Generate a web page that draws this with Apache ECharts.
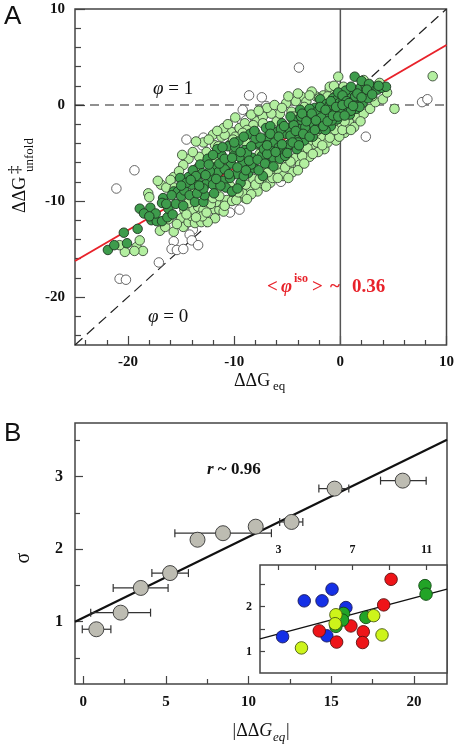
<!DOCTYPE html>
<html><head><meta charset="utf-8">
<script src="https://cdn.jsdelivr.net/npm/echarts@6/dist/echarts.min.js"></script>
<style>html,body{margin:0;padding:0;background:#fff}#c{width:457px;height:749px}</style>
</head><body><div id="c"></div>
<script>
// ---------- Panel A data (ΔΔG_eq, ΔΔG‡_unfold) ----------
const whitePts = [[-3.9,3.9],[-8.6,1.0],[-7.4,0.8],[-9.2,-0.5],[-7.6,-0.5],[-7.0,-0.1],[-10.6,-2.2],[-9.6,-1.9],[-8.6,-1.3],[-8.3,-1.2],[-8.9,-1.6],[-10.1,-1.9],[-14.5,-3.6],[-12.9,-3.4],[-13.0,-4.2],[-19.4,-6.8],[-21.1,-8.7],[-13.5,-6.6],[-5.6,-8.0],[2.4,-3.3],[7.7,0.3],[8.2,0.6],[-10.4,-11.2],[-9.5,-10.9],[-12.5,-12.1],[-13.9,-13.0],[-14.2,-13.5],[-15.7,-14.2],[-15.9,-15.0],[-15.4,-15.1],[-14.8,-15.0],[-14.0,-14.1],[-13.4,-14.6],[-17.1,-16.4],[-20.8,-18.1],[-20.2,-18.2]];
const lightPts = [[-18.1,-9.2],[-18.0,-9.6],[-16.9,-8.3],[-15.7,-7.5],[-16.4,-8.6],[-14.3,-5.6],[-14.8,-6.25],[-13.4,-6.6],[-12.0,-3.1],[-11.8,-4.2],[-11.2,-3.3],[-10.3,-2.8],[-9.5,-2.4],[-9.0,-1.9],[-7.9,-1.7],[-7.3,-1.2],[-6.0,-1.7],[-5.1,0.2],[-3.7,0.9],[-3.2,0.35],[-2.3,0.9],[-1.6,1.0],[-0.2,2.95],[-4.6,-0.7],[-5.7,-0.9],[-6.5,-0.9],[-7.3,-1.9],[-8.2,-2.1],[-8.8,-2.6],[-9.9,-3.3],[-10.9,-3.1],[-10.3,-4.0],[-11.5,-4.3],[-12.6,-4.9],[-13.3,-5.4],[-15.2,-6.9],[-16.0,-7.8],[-6.9,-0.3],[-4.2,0.4],[-2.7,1.4],[-1.0,1.6],[-0.5,0.9],[-12.9,-3.9],[-11.0,-2.4],
[-20.3,-15.3],[-19.2,-14.8],[-18.6,-15.2],[-19.4,-15.2],[-15.7,-13.2],[-15.0,-11.8],[-14.8,-12.7],[-14.3,-12.2],[-14.0,-11.6],[-13.9,-10.9],[-13.4,-10.6],[-13.2,-11.5],[-13.7,-12.3],[-13.1,-12.2],[-12.9,-10.9],[-11.8,-10.9],[-11.4,-10.9],[-11.2,-10.2],[-11.7,-10.1],[-14.7,-10.9],[-14.3,-10.2],[-11.8,-11.8],[-12.5,-12.2],
[-9.0,-9.7],[-7.4,-8.2],[-4.8,-6.25],[-3.2,-5.0],[-1.5,-4.6],[-10.0,-9.4],[-9.5,-8.6],[-8.6,-8.8],[-8.2,-7.7],[-7.8,-9.0],[-7.0,-7.6],[-6.6,-8.1],[-6.2,-7.1],[-5.8,-6.8],[-5.4,-7.4],[-5.0,-5.6],[-4.5,-7.0],[-4.2,-5.5],[-3.8,-6.2],[-3.5,-4.4],[-2.9,-5.4],[-2.5,-4.1],[-2.1,-4.9],[-1.8,-3.4],[-1.2,-3.9],[-0.8,-3.0],[-0.4,-3.7],[0.1,-2.0],[0.4,-2.9],[0.8,-1.8],[1.3,-2.3],[1.6,-1.3],[2.2,-0.9],[2.8,-0.4],[3.3,0.3],[4.0,0.6],[5.1,-0.4],[8.7,3.0],[-10.7,-9.9],[-10.4,-8.4],[-9.2,-9.2],[-8.0,-8.3],[-12.2,-10.3],[-11.0,-11.1],[-7.2,-6.9],[-6.0,-6.2],[-3.0,-3.8],[-0.1,-3.3],[0.6,-2.5],[2.5,1.2],[3.0,0.9],[4.4,1.3],[3.7,2.3],[2.2,2.6],[-17.0,-13.1],[-16.5,-12.7],[-18.9,-14.1],[-20.8,-14.6],
[-12.3,-8.0],[-10.6,-6.2],[-9.3,-5.6],[-7.6,-5.1],[-6.3,-3.2],[-5.0,-4.2],[-3.9,-2.8],[-2.3,-2.8],[-1.6,-0.8],[-0.6,-1.7],[-8.9,-3.9],[-11.7,-5.8],[-13.7,-8.8],[-15.6,-8.6],[-10.0,-4.8],[-7.0,-3.7],[-4.4,-1.2],[-2.0,-0.2],[-1.0,1.9],[0.6,1.2],
[-17.2,-7.9],[-14.9,-5.2],[-13.9,-4.9],[-13.6,-3.8],[-12.4,-3.6],[-11.6,-2.7],[-10.6,-2.0],[-9.9,-1.3],[-9.2,-2.9],[-8.4,-1.0],[-7.7,-0.6],[-6.2,0.0],[-5.5,-0.3],[-4.9,0.9],[-4.0,1.2],[-3.4,-0.2],[-2.9,1.0],[-2.0,0.7],[-1.2,0.9],[-0.6,2.0],[0.3,1.9],[-6.7,-2.4],[-8.0,-2.9],[-10.1,-3.6],
[-16.2,-11.9],[-15.4,-12.4],[-14.5,-11.4],[-13.0,-11.6],[-12.6,-11.2],[-12.0,-9.7],[-11.4,-9.5],[-10.9,-10.5],[-10.2,-10.0],[-9.8,-9.9],[-9.6,-9.1],[-8.9,-8.3],[-8.4,-9.3],[-7.6,-7.7],[-7.0,-8.5],[-6.4,-7.6],[-5.9,-7.6],[-5.2,-6.5],[-4.7,-5.9],[-4.0,-6.8],[-3.6,-5.3],[-3.1,-4.5],[-2.6,-5.1],[-2.2,-3.9],[-1.7,-4.2],[-1.0,-3.4],[-0.5,-2.6],[0.2,-2.6],[1.0,-2.6],[1.9,-1.7],[0.4,-1.7],[-13.6,-11.7],[-11.5,-8.6],[-8.8,-9.8],[-6.8,-7.0],[-4.9,-7.6],[-3.4,-6.1]];
const darkPts = [[-21.9,-15.1],[-21.3,-14.6],[-20.4,-13.3],[-20.1,-14.4],[-18.9,-10.8],[-17.9,-10.7],[-17.8,-12.0],[-17.3,-12.1],[-16.8,-12.1],[-16.3,-11.7],[-16.7,-9.7],[-16.8,-10.2],[-15.7,-9.0],[-15.3,-9.0],[-15.0,-9.5],[-14.7,-8.9],[-14.0,-8.3],[-13.4,-8.0],[-14.2,-9.4],[-13.7,-10.1],[-12.9,-10.1],[-12.8,-9.4],[-12.6,-8.2],[-12.1,-7.6],[-12.0,-8.3],[-14.3,-7.5],[-15.1,-7.6],
[-13.9,-6.8],[-13.2,-6.2],[-12.5,-5.6],[-13.0,-7.1],[-11.8,-6.5],[-11.2,-5.2],[-11.5,-7.0],[-11.0,-7.9],[-10.6,-4.3],[-10.3,-6.1],[-10.8,-8.6],[-10.0,-5.2],[-9.8,-7.2],[-9.6,-3.8],[-9.4,-8.1],[-9.2,-6.0],[-9.0,-4.7],[-8.7,-7.1],[-8.5,-3.0],[-8.3,-5.5],[-8.1,-6.6],[-7.9,-4.1],[-7.6,-4.0],[-7.4,-5.3],[-7.3,-7.4],[-7.0,-2.4],[-6.8,-3.3],[-6.7,-6.1],[-6.5,-4.6],[-6.3,-5.5],[-6.0,-2.8],[-5.9,-3.8],[-5.7,-5.6],[-5.5,-1.9],[-5.3,-4.8],[-5.1,-3.0],[-4.9,-2.4],[-4.8,-4.1],[-4.5,-1.5],[-4.3,-3.4],[-4.1,-4.6],[-3.8,-0.5],[-3.8,-2.5],[-3.6,-1.6],[-3.4,-3.7],[-3.1,-0.9],[-3.0,-2.8],[-2.8,-1.9],[-2.6,-3.3],[-2.4,-0.3],[-2.2,-1.3],[-2.0,-2.5],[-1.9,0.6],[-1.7,-0.7],[-1.5,-1.8],[-1.3,0.1],[-1.1,-1.1],[-0.9,-2.2],[-0.7,0.7],[-0.6,-0.4],[-0.4,0.5],[-0.3,-1.5],[-0.1,0.2],[0.1,-0.8],[0.3,0.4],[0.5,-0.2],[0.7,0.9],[0.9,-1.0],[1.1,0.3],[1.2,1.5],[1.35,2.95],[1.5,-0.4],[1.7,0.8],[1.9,1.8],[2.1,0.2],[2.3,1.2],[2.4,1.9],[2.6,0.7],[2.9,1.5],[3.2,1.9],[3.5,1.6],[3.9,1.8],[4.3,1.9],[2.0,2.5],[2.7,2.2],[0.5,1.5],[-0.2,1.3],
[-12.3,-6.9],[-11.6,-4.6],[-10.9,-6.7],[-10.4,-7.6],[-9.9,-4.4],[-9.5,-5.4],[-9.1,-7.4],[-8.8,-5.0],[-8.4,-6.2],[-8.0,-3.5],[-7.7,-6.8],[-7.2,-4.6],[-6.9,-5.1],[-6.6,-2.2],[-6.2,-3.9],[-5.8,-4.4],[-5.6,-2.5],[-5.2,-5.3],[-4.7,-3.2],[-4.4,-2.1],[-4.0,-3.9],[-3.7,-1.2],[-3.3,-2.3],[-2.9,-0.4],[-2.5,-2.0],[-2.1,-0.6],[-1.8,-1.3],[-1.4,-2.6],[-1.0,0.0],[-0.8,-1.6],[-0.5,-0.9],[0.0,-0.3],[0.2,1.0],[0.6,0.4],[1.0,-0.6],[1.4,0.9],[1.8,-0.2],[-16.2,-10.8],[-15.5,-10.3],[-14.8,-10.5],[-15.8,-11.4],[-13.5,-9.2],[-12.9,-8.7],[-11.9,-9.2],[-11.3,-8.4],[-10.2,-9.0],[-9.7,-8.7],[-13.6,-7.4],[-14.5,-8.1],
[-12.7,-7.3],[-12.4,-6.2],[-12.0,-5.2],[-11.7,-7.7],[-11.4,-6.1],[-11.1,-4.4],[-10.9,-5.6],[-10.5,-7.2],[-10.2,-5.5],[-10.0,-3.9],[-9.7,-6.5],[-9.4,-4.9],[-9.1,-3.3],[-8.9,-6.8],[-8.6,-5.8],[-8.4,-4.3],[-8.1,-2.7],[-7.8,-5.7],[-7.5,-3.4],[-7.1,-6.1],[-6.9,-4.2],[-6.6,-3.0],[-6.3,-6.4],[-6.1,-4.9],[-5.8,-3.3],[-5.5,-4.1],[-5.3,-2.2],[-5.0,-5.0],[-4.7,-1.2],[-4.5,-3.9],[-4.2,-2.7],[-3.9,-4.2],[-3.6,-0.9],[-3.5,-3.0],[-3.2,-1.7],[-2.9,-3.3],[-2.7,-0.9],[-2.4,-2.6],[-2.3,-1.6],[-1.9,-0.2],[-1.6,-2.2],[-1.4,-0.5],[-1.2,-1.7],[-0.9,0.4],[-0.7,-1.1],[-0.4,-0.2],[-0.2,-1.2],[0.2,0.0],[0.4,-1.1],[0.8,0.2],[1.2,-0.1],[1.6,1.2],[2.0,0.8],[2.5,1.6],[3.0,1.1],[3.6,2.0],[1.0,1.9],[-13.3,-8.4],[-14.1,-7.8],[-15.0,-8.4],[-15.9,-9.4],[-16.4,-10.3],[-17.4,-11.3],[-18.5,-11.3],[-19.1,-12.9],[-18.0,-11.6]];
const fitA = [[-25,-16.25],[10,6.25]];
const diagA = [[-25,-25],[10,10]];
const zeroA = [[-25,0],[10,0]];
const vertA = [[0,-25],[0,10]];
const majorA = [-20,-10,0,10];
const minorA = [-24,-22,-18,-16,-14,-12,-8,-6,-4,-2,2,4,6,8];

// ---------- Panel B data ----------
const sigmaX = [0.79,2.26,3.48,5.25,6.91,8.45,10.43,12.6,15.2,19.32];
const sigmaY = [0.895,1.124,1.465,1.67,2.13,2.22,2.31,2.375,2.835,2.945];
const errLo  = [-0.06,0.45,1.81,4.15,null,5.54,null,11.88,14.25,17.98];
const errHi  = [1.67,4.07,5.13,6.36,null,11.38,null,13.28,16.06,20.74];
const fitB = [[-0.5,1.0],[22,3.51]];
const majorBX = [0,5,10,15,20], minorBX = [2.5,7.5,12.5,17.5];
const majorBY = [1,2,3], minorBY = [0.5,1.5,2.5,3.5];
// inset
const insetBlue   = [[3.22,1.33],[4.39,2.13],[5.35,2.13],[5.89,2.39],[6.64,1.98],[5.61,1.35]];
const insetRed    = [[9.08,2.61],[8.68,2.04],[5.2,1.46],[6.14,1.21],[6.91,1.57],[7.58,1.44],[7.54,1.2]];
const insetGreen  = [[10.91,2.47],[10.97,2.28],[6.51,1.85],[6.46,1.7],[6.1,1.56],[7.72,1.76]];
const insetYellow = [[6.1,1.82],[6.06,1.62],[8.14,1.8],[8.59,1.37],[4.24,1.08]];
const fitInset = [[2,1.28],[12.1,2.39]];
const insetXTicks = [3,5,7,9,11], insetXLabels = [3,7,11];
const insetYTicks = [1,1.5,2,2.5], insetYLabels = [1,2];

const SERIF = '"Liberation Serif","Times New Roman",serif';
const SANS = '"Liberation Sans",Arial,sans-serif';
const chart = echarts.init(document.getElementById('c'), null, {renderer:'canvas'});
const lbl = (sz)=>({fontFamily:SERIF,fontWeight:'bold',fontSize:sz,color:'#111'});
const errData = sigmaX.map((x,i)=>[x,sigmaY[i],errLo[i],errHi[i]]).filter(d=>d[2]!==null);
const TC = '#444';

function ax(grid,pos,min,max,ticks,labels,tlen,lsize,margin){
  return {gridIndex:grid,type:'value',position:pos,min,max,offset:0,
    axisLine:{show:false,onZero:false},splitLine:{show:false},
    axisTick:{show:true,inside:true,length:tlen,customValues:ticks,lineStyle:{color:TC,width:1.2}},
    axisLabel: labels ? Object.assign(lbl(lsize),{customValues:labels,margin}) : {show:false}};
}
function sc(name,data,color,border,size,xi,z){
  return {type:'scatter',name,xAxisIndex:xi,yAxisIndex:xi,data,symbolSize:size,z,
    itemStyle:{color,borderColor:border,borderWidth:0.9,opacity:1},emphasis:{disabled:true},silent:true};
}
function ln(data,xi,color,width,type,z){
  return {type:'line',xAxisIndex:xi,yAxisIndex:xi,data,symbol:'none',z,silent:true,
    lineStyle:{color,width,type},animation:false};
}
function tx(x,y,text,font,extra){
  return Object.assign({type:'text',x,y,style:Object.assign({text,font,fill:'#111',verticalAlign:'middle'},extra&&extra.style||{})},extra&&extra.el||{});
}

const option = {
  animation:false,
  grid:[
    {left:75,top:9,width:372,height:336,show:true,borderColor:'#444',borderWidth:1.5,backgroundColor:'transparent'},
    {left:75,top:423,width:372,height:261,show:true,borderColor:'#444',borderWidth:1.5},
    {left:260,top:565,width:187,height:108,show:true,borderColor:'#444',borderWidth:1.5,backgroundColor:'#fff'}
  ],
  xAxis:[
    ax(0,'bottom',-25,10,majorA,majorA,9,15,10),
    ax(0,'bottom',-25,10,minorA,null,5),
    ax(1,'bottom',-0.5,22,majorBX,majorBX,8,15,11),
    ax(1,'bottom',-0.5,22,minorBX,null,5),
    ax(2,'top',2,12.1,insetXTicks,insetXLabels,5,12,9)
  ],
  yAxis:[
    ax(0,'left',-25,10,majorA,majorA,10,15,10),
    ax(0,'left',-25,10,minorA,null,6),
    ax(1,'left',0.14,3.74,majorBY,majorBY,8,16,12),
    ax(1,'left',0.14,3.74,minorBY,null,5),
    ax(2,'left',0.52,2.93,insetYTicks,insetYLabels,5,12,8)
  ],
  series:[
    ln(vertA,0,'#555',1.5,'solid',1),
    ln(zeroA,0,'#222',1.2,[9,6],1),
    ln(diagA,0,'#222',1.2,[10,6],1),
    ln(fitA,0,'#e8222a',2,'solid',2),
    sc('white',whitePts,'#ffffff','#555',9.5,0,3),
    sc('light',lightPts,'#b3efa0','#3a4a38',9.5,0,4),
    sc('dark',darkPts,'#3e9c4c','#1e3520',9.5,0,5),
    ln(fitB,2,'#111',2.2,'solid',2),
    {type:'custom',xAxisIndex:2,yAxisIndex:2,data:errData,z:3,silent:true,
     encode:{x:[0,2,3],y:1},
     renderItem:(params,api)=>{
       const y=api.value(1), p1=api.coord([api.value(2),y]), p2=api.coord([api.value(3),y]);
       const st={stroke:'#333',lineWidth:1.2}, h=4;
       return {type:'group',children:[
         {type:'line',shape:{x1:p1[0],y1:p1[1],x2:p2[0],y2:p2[1]},style:st},
         {type:'line',shape:{x1:p1[0],y1:p1[1]-h,x2:p1[0],y2:p1[1]+h},style:st},
         {type:'line',shape:{x1:p2[0],y1:p2[1]-h,x2:p2[0],y2:p2[1]+h},style:st}]};
     }},
    sc('sigma',sigmaX.map((x,i)=>[x,sigmaY[i]]),'#bdbcb2','#333',15,2,4),
    ln(fitInset,4,'#111',1.2,'solid',6),
    sc('blue',insetBlue,'#1530e6','#1a1a5a',12.5,4,7),
    sc('red',insetRed,'#ee1418','#5a1010',12.5,4,7),
    sc('green',insetGreen,'#22a427','#124a14',12.5,4,7),
    sc('yellow',insetYellow,'#cdf41a','#4a5a10',12.5,4,8)
  ],
  graphic:[
    {type:'text',x:4,y:4,style:{text:'A',font:'26px '+SANS,fill:'#111'}},
    {type:'text',x:4,y:421,style:{text:'B',font:'26px '+SANS,fill:'#111'}},
    tx(20,213,'ΔΔG','18px '+SERIF,{el:{rotation:Math.PI/2}}),
    tx(16,174,'‡','17px '+SERIF,{el:{rotation:Math.PI/2}}),
    tx(30,172,'unfold','13px '+SERIF,{el:{rotation:Math.PI/2}}),
    tx(234,381,'ΔΔG','18px '+SERIF),
    tx(273,387,'eq','13px '+SERIF),
    {type:'text',x:153,y:89,style:{rich:{i:{font:'italic 19px '+SERIF,fill:'#111'},n:{font:'19px '+SERIF,fill:'#111'}},text:'{i|φ}{n| = 1}',verticalAlign:'middle'}},
    {type:'text',x:148,y:317,style:{rich:{i:{font:'italic 19px '+SERIF,fill:'#111'},n:{font:'19px '+SERIF,fill:'#111'}},text:'{i|φ}{n| = 0}',verticalAlign:'middle'}},
    tx(267,287,'<','bold 19px '+SERIF,{style:{fill:'#e8222a'}}),
    tx(281,287,'φ','italic bold 19px '+SERIF,{style:{fill:'#e8222a'}}),
    tx(294,279,'iso','bold 12px '+SERIF,{style:{fill:'#e8222a'}}),
    tx(312,287,'>','bold 19px '+SERIF,{style:{fill:'#e8222a'}}),
    tx(330,287,'~','bold 19px '+SERIF,{style:{fill:'#e8222a'}}),
    tx(352,287,'0.36','bold 19px '+SERIF,{style:{fill:'#e8222a'}}),
    {type:'text',x:207,y:470,style:{rich:{i:{font:'italic bold 17px '+SERIF,fill:'#111'},n:{font:'bold 17px '+SERIF,fill:'#111'}},text:'{i|r}{n| ~ 0.96}',verticalAlign:'middle'}},
    tx(24,558,'σ','20px '+SERIF,{el:{rotation:Math.PI/2},style:{align:'center'}}),
    {type:'text',x:229,y:731,style:{rich:{n:{font:'18px '+SERIF,fill:'#111'},i:{font:'italic 18px '+SERIF,fill:'#111'}},text:'{n|\u2009|ΔΔ}{i|G}',verticalAlign:'middle'}},
    tx(273,738,'eq','italic 13px '+SERIF),
    tx(286,731,'|','18px '+SERIF)
  ]
};
chart.setOption(option);
</script></body></html>
